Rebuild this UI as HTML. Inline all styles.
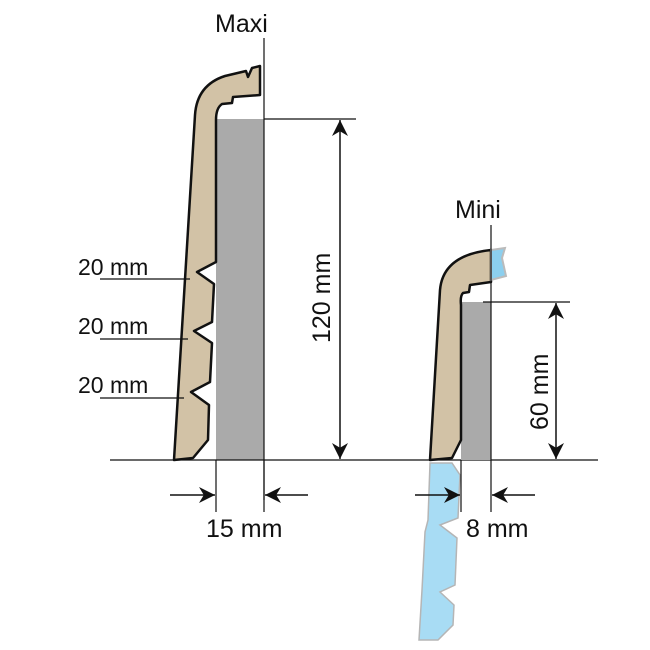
<!DOCTYPE html>
<html><head><style>body{margin:0;background:#fff}svg{display:block}text{font-family:"Liberation Sans",sans-serif;fill:#111}</style></head><body>
<svg width="650" height="650" viewBox="0 0 650 650" xmlns="http://www.w3.org/2000/svg">
<defs><marker id="b" viewBox="0 0 10 10" refX="10" refY="5" markerWidth="20" markerHeight="16" markerUnits="userSpaceOnUse" orient="auto-start-reverse"><path d="M0,0 L10,5 L0,10 L3,5z" fill="#111"/></marker></defs>
<!-- Maxi -->
<rect x="216" y="119" width="48" height="341" fill="#aaaaaa"/>
<path d="M174,460 L195,115 Q197,85 225,76 L246,71 L248,77 L252,68 L260,66 L260,95 L233,97 L232,103 L222,104 Q216,108 216,120 L216,262 L197,272 L214,284 L212,322 L194,331 L212,343 L210,382 L191,392 L209,405 L208,440 L193,458 Z" fill="#d2c2a6" stroke="#111" stroke-width="2.5" stroke-linejoin="round"/>
<line x1="264" y1="38" x2="264" y2="500" stroke="#111" stroke-width="1.2"/>
<line x1="264" y1="119" x2="356" y2="119" stroke="#111" stroke-width="1.2"/>
<line x1="340" y1="120" x2="340" y2="459" stroke="#111" stroke-width="1.5" marker-start="url(#b)" marker-end="url(#b)"/>
<text x="0" y="0" font-size="25" transform="translate(330,343) rotate(-90)">120 mm</text>
<text x="215" y="32" font-size="25">Maxi</text>
<g font-size="23">
<text x="78" y="275">20 mm</text><line x1="100" y1="279" x2="190" y2="279" stroke="#111" stroke-width="1.2"/>
<text x="78" y="334">20 mm</text><line x1="100" y1="339" x2="188" y2="339" stroke="#111" stroke-width="1.2"/>
<text x="78" y="393">20 mm</text><line x1="100" y1="398" x2="184" y2="398" stroke="#111" stroke-width="1.2"/>
</g>
<line x1="110" y1="460" x2="598" y2="460" stroke="#111" stroke-width="1.2"/>
<line x1="216" y1="460" x2="216" y2="512" stroke="#111" stroke-width="1.2"/>
<line x1="264" y1="460" x2="264" y2="512" stroke="#111" stroke-width="1.2"/>
<line x1="170" y1="495" x2="215" y2="495" stroke="#111" stroke-width="1.5" marker-end="url(#b)"/>
<line x1="308" y1="495" x2="265" y2="495" stroke="#111" stroke-width="1.5" marker-end="url(#b)"/>
<text x="206" y="537" font-size="25">15 mm</text>
<!-- Mini -->
<rect x="461" y="302" width="30" height="158" fill="#aaaaaa"/>
<path d="M430,460 L440,290 Q443,255 491,250 L491,282 L470,285 L469,292 L463,293 Q460,296 461,305 L461,440 L452,458 Z" fill="#d2c2a6" stroke="#111" stroke-width="2.5" stroke-linejoin="round"/>
<path d="M491,250 L505,248 L502,258 L506,276 L491,280 Z" fill="#8ccfee" stroke="#bbb" stroke-width="2"/>
<path d="M430,463 L452,463 L460,475 L458,518 L440,525 L457,538 L455,585 L440,592 L454,605 L453,625 L438,640 L419,640 L422,590 L425,532 L428,520 Z" fill="#a8dcf4" stroke="#b5b5b5" stroke-width="1.5"/>
<line x1="491" y1="225" x2="491" y2="512" stroke="#111" stroke-width="1.2"/>
<line x1="461" y1="460" x2="461" y2="512" stroke="#111" stroke-width="1.2"/>
<line x1="483" y1="302" x2="570" y2="302" stroke="#111" stroke-width="1.2"/>
<line x1="556" y1="303" x2="556" y2="459" stroke="#111" stroke-width="1.5" marker-start="url(#b)" marker-end="url(#b)"/>
<text x="0" y="0" font-size="25" transform="translate(548,430) rotate(-90)">60 mm</text>
<text x="455" y="218" font-size="25">Mini</text>
<line x1="415" y1="495" x2="460" y2="495" stroke="#111" stroke-width="1.5" marker-end="url(#b)"/>
<line x1="535" y1="495" x2="492" y2="495" stroke="#111" stroke-width="1.5" marker-end="url(#b)"/>
<text x="466" y="537" font-size="25">8 mm</text>
</svg>
</body></html>
